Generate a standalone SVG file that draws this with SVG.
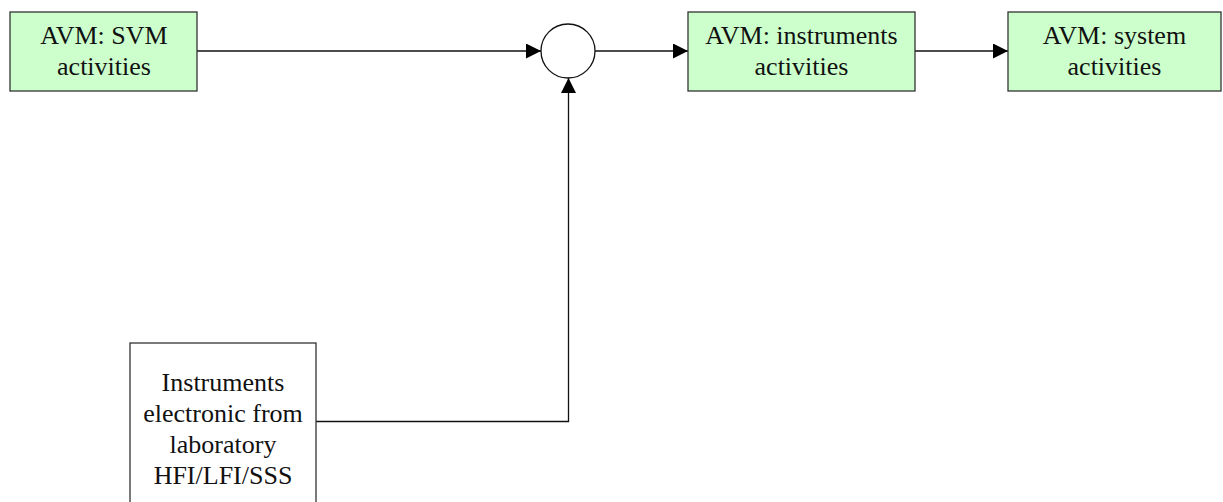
<svg xmlns="http://www.w3.org/2000/svg" width="1223" height="502" viewBox="0 0 1223 502">
<style>
.box{fill:#ccffcc;stroke:#333;stroke-width:1.3}
.wbox{fill:#fff;stroke:#333;stroke-width:1.3}
.t{font-family:"Liberation Serif","Times New Roman",serif;font-size:26px;fill:#111;text-anchor:middle}
.ln{fill:none;stroke:#111;stroke-width:1.3}
</style>
<defs>
<marker id="ah" markerWidth="15" markerHeight="15" refX="15" refY="7.5" orient="auto" markerUnits="userSpaceOnUse">
<path d="M0,0 L15,7.5 L0,15 Z" fill="#000"/>
</marker>
</defs>
<rect width="1223" height="502" fill="#fff"/>
<g id="connectors">
<line class="ln" x1="197" y1="51" x2="541" y2="51" marker-end="url(#ah)"/>
<line class="ln" x1="595" y1="51" x2="688" y2="51" marker-end="url(#ah)"/>
<line class="ln" x1="915" y1="51" x2="1008" y2="51" marker-end="url(#ah)"/>
<polyline class="ln" points="316,421.5 568.5,421.5 568.5,78" marker-end="url(#ah)"/>
</g>
<g id="svm">
<rect class="box" x="10" y="12" width="187" height="79"/>
<text class="t" x="104" y="44">AVM: SVM</text>
<text class="t" x="104" y="75">activities</text>
</g>
<g id="junction">
<circle cx="568" cy="51" r="27" fill="#fff" stroke="#111" stroke-width="1.3"/>
</g>
<g id="instruments">
<rect class="box" x="688" y="12" width="227" height="79"/>
<text class="t" x="801.5" y="44">AVM: instruments</text>
<text class="t" x="801.5" y="75">activities</text>
</g>
<g id="system">
<rect class="box" x="1008" y="12" width="213" height="79"/>
<text class="t" x="1114.5" y="44">AVM: system</text>
<text class="t" x="1114.5" y="75">activities</text>
</g>
<g id="electronic">
<rect class="wbox" x="130" y="343" width="186" height="170"/>
<text class="t" x="223" y="391">Instruments</text>
<text class="t" x="223" y="422">electronic from</text>
<text class="t" x="223" y="453">laboratory</text>
<text class="t" x="223" y="484">HFI/LFI/SSS</text>
</g>
</svg>
